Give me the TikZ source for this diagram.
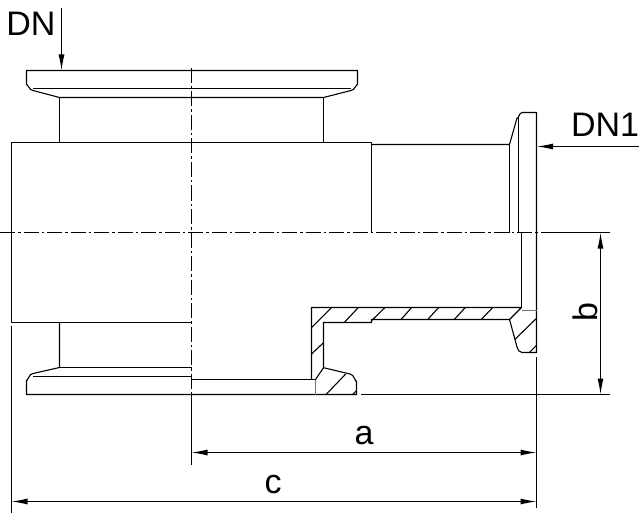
\documentclass[tikz,border=0pt]{standalone}
\usepackage{fontspec}
\setmainfont{Liberation Sans}
\usetikzlibrary{arrows.meta}
\tikzset{>={Latex[length=16pt, width=6pt]}}
\tikzset{part/.style={line width=1.1pt, line join=round}}
\tikzset{hatch/.style={line width=1.1pt}}
\tikzset{thinedge/.style={line width=1.1pt, black!55}}
\tikzset{ctrline/.style={line width=1.1pt, dash pattern=on 15pt off 3pt on 2.5pt off 3pt}}
\tikzset{dim/.style={line width=1.1pt}}
\tikzset{lbl/.style={font=\fontsize{34}{34}\selectfont, inner sep=0pt}}
\begin{document}
\begin{tikzpicture}[x=1pt, y=-1pt]
    \useasboundingbox(0, 0)rectangle(642, 513);
    % upper flange
    \draw[part](59.5, 97.5)--(33, 90.5)to[out=195, in=90](26.5, 85)--(26.5, 70.5)--(357.5, 70.5)--(357.5, 85)to[out=90, in=-15](351, 90.5)--(323.5, 97.5)--cycle;
    \draw[part](33, 88.5)--(351, 88.5);
    \draw[part](59.5, 97.5)--(59.5, 142.5);
    \draw[part](323.5, 97.5)--(323.5, 142.5);
    % body
    \draw[part](191.5, 322.5)--(11.5, 322.5)--(11.5, 142.5)--(371.5, 142.5)--(371.5, 232.5);
    % lower flange, left half
    \draw[part](59.5, 322.5)--(59.5, 367.5)--(33, 373.5)to[out=165, in=-90](26.5, 380)--(26.5, 394.5)--(191.5, 394.5);
    \draw[part](59.5, 367.5)--(191.5, 367.5);
    \draw[part](33, 376.5)--(191.5, 376.5);
    % outlet
    \draw[part](371.5, 144.5)--(509.5, 144.5)--(517, 118)to[out=-70, in=180](522, 112.5)--(536.5, 112.5)--(536.5, 232.5);
    \draw[part](509.5, 144.5)--(509.5, 232.5);
    \draw[part](518.5, 118)--(518.5, 232.5);
    \draw[part](521.5, 232.5)--(521.5, 307.5);
    \draw[part](536.5, 232.5)--(536.5, 352.5)--(522, 352.5)to[out=180, in=-75](517, 347)--(509.5, 319.5);
    \draw[thinedge](521.5, 310.5)--(536.5, 310.5);
    % section
    \draw[part](191.5, 379.5)--(315.5, 379.5);
    \draw[part](311.5, 379.5)--(311.5, 307.5)--(521.5, 307.5)--(509.5, 319.5)--(371.5, 319.5)--(371.5, 322.5)--(323.5, 322.5)--(323.5, 367.7)--(350, 374)to[out=10, in=-90](356.5, 381)--(356.5, 394.5)--(191.5, 394.5);
    \draw[part](323.5, 367.7)--(315.5, 379.5);
    \draw[thinedge](315.5, 379.5)--(315.5, 394.5);
    % hatching
    \foreach \xa/\ya/\xb/\yb in {311.5/327.7/331.7/307.5, 344.3/322.5/358.3/307.5, 371.7/320.5/385/307.5, 401/319.5/411.7/307.5,
        427.7/319.5/438.7/307.5, 454.3/319.5/465.3/307.5, 481.3/319.5/492.7/307.5, 311.5/354/323.5/342.7,
        326/394.5/345.7/374, 352.7/394.5/356.5/390.7, 515/339.3/536.5/318.3, 529.3/352.5/536.5/345.3}
        \draw[hatch](\xa, \ya)--(\xb, \yb);
    % centre lines
    \draw[ctrline](0, 232.5)--(546, 232.5);
    \draw[ctrline](191.5, 68)--(191.5, 394.5);
    % dimensions
    \draw[dim](546, 232.5)--(610, 232.5);
    \draw[dim](361, 394.5)--(610, 394.5);
    \draw[dim](191.5, 394.5)--(191.5, 465);
    \draw[dim](536.5, 357)--(536.5, 508);
    \draw[dim](11.5, 326)--(11.5, 513);
    \draw[dim, <->](600.5, 232.5)--(600.5, 394.5);
    \draw[dim, <->](191.5, 452.5)--(536.5, 452.5);
    \draw[dim, <->](11.5, 501.5)--(536.5, 501.5);
    \draw[dim, ->](61.5, 8)--(61.5, 70.5);
    \draw[dim, ->](639, 146.5)--(537, 146.5);
    \node[lbl](lblDN)at(31, 24){DN};
    \node[lbl](lblDNa)at(605, 125){DN1};
    \node[lbl, rotate=90](lblb)at(585, 312){b};
    \node[lbl](lbla)at(364, 436){a};
    \node[lbl](lblc)at(273, 485){c};
\end{tikzpicture}
\end{document}
